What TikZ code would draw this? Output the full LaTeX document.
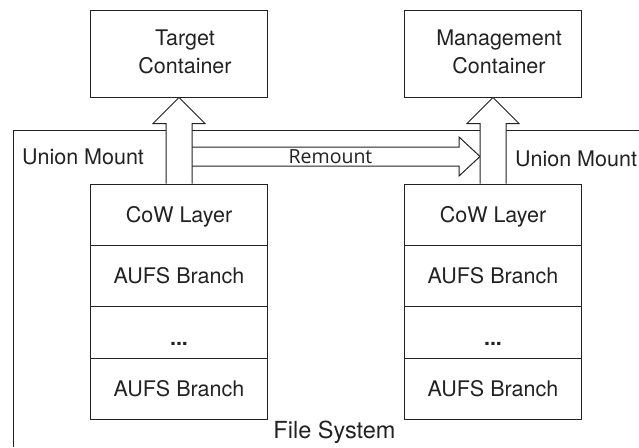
\documentclass[tikz,border=0pt]{standalone}
\usepackage{fontspec}
\setmainfont{TeX Gyre Heros}
\newfontfamily\remfont{Open Sans}
\usetikzlibrary{calc}
\definecolor{ink}{HTML}{222222}
\begin{document}
\begin{tikzpicture}[x=1pt,y=1pt,
  lbl/.style={font=\fontsize{21.5}{28}\selectfont, text=ink, inner sep=0pt},
  cont/.style={draw=ink, line width=1pt, minimum width=177pt, minimum height=87pt, inner sep=0pt},
  layer/.style={draw=ink, line width=1pt, minimum width=177pt, inner sep=0pt,
    font=\fontsize{21.5}{28}\selectfont, text=ink, text height=15.5pt, text depth=0pt},
  fat/.style={draw=ink, line width=1pt, fill=white, line join=miter},
  frameline/.style={draw=ink, line width=1pt}]
\useasboundingbox (0,0) rectangle (639,-447);
% file system frame
\coordinate (fBL) at (13,-447);
\coordinate (fTR) at (639,-130);
\draw[frameline] (fBL) |- (fTR);
% containers
\node[cont] (tgt) at (179,-53.5) {};
\node[cont] (mgt) at (493,-53.5) {};
\node[lbl, align=center] (tgtT) at ($(tgt.center)+(6,2)$) {Target\\Container};
\node[lbl, align=center] (mgtT) at ($(mgt.center)+(6,2)$) {Management\\Container};
% left stack
\node[layer, minimum height=61pt] (cowL) at (179,-214.5) {CoW Layer};
\node[layer, minimum height=61pt] (a1L) at (179,-275.5) {AUFS Branch};
\node[layer, minimum height=52pt] (dL) at (179,-332) {};
\node[layer, minimum height=61pt] (a2L) at (179,-388.5) {AUFS Branch};
\node[lbl, anchor=base] (dotsL) at ($(dL.center)+(0,-13)$) {\textbf{...}};
% right stack
\node[layer, minimum height=61pt] (cowR) at (493,-214.5) {CoW Layer};
\node[layer, minimum height=61pt] (a1R) at (493,-275.5) {AUFS Branch};
\node[layer, minimum height=52pt] (dR) at (493,-332) {};
\node[layer, minimum height=61pt] (a2R) at (493,-388.5) {AUFS Branch};
\node[lbl, anchor=base] (dotsR) at ($(dR.center)+(0,-13)$) {\textbf{...}};
% remount arrow
\coordinate (rmS) at (192,-156.5);
\coordinate (rmT) at (480,-156.5);
\draw[fat] ($(rmS)+(0,9.5)$) -- ($(rmT)+(-21,9.5)$) -- ($(rmT)+(-21,19.5)$) -- (rmT)
  -- ($(rmT)+(-21,-19.5)$) -- ($(rmT)+(-21,-9.5)$) -- ($(rmS)+(0,-9.5)$);
\node[font=\remfont\fontsize{19.5}{24}\selectfont, text=ink, anchor=base, inner sep=0pt] (rmL) at (330.5,-163) {Remount};
% up arrows
\draw[fat] ($(cowL.north)+(-13,0)$) -- ($(tgt.south)+(-13,-26)$) -- ($(tgt.south)+(-26,-26)$) -- (tgt.south)
  -- ($(tgt.south)+(26,-26)$) -- ($(tgt.south)+(13,-26)$) -- ($(cowL.north)+(13,0)$);
\draw[fat] ($(cowR.north)+(-13,0)$) -- ($(mgt.south)+(-13,-26)$) -- ($(mgt.south)+(-26,-26)$) -- (mgt.south)
  -- ($(mgt.south)+(26,-26)$) -- ($(mgt.south)+(13,-26)$) -- ($(cowR.north)+(13,0)$);
% labels
\node[lbl, anchor=base west] (umL) at (22,-164) {Union Mount};
\node[lbl, anchor=base west] (umR) at (515,-166) {Union Mount};
\node[lbl, font=\fontsize{23.5}{28}\selectfont, anchor=base] (fs) at (334.5,-438) {File System};
\end{tikzpicture}
\end{document}
